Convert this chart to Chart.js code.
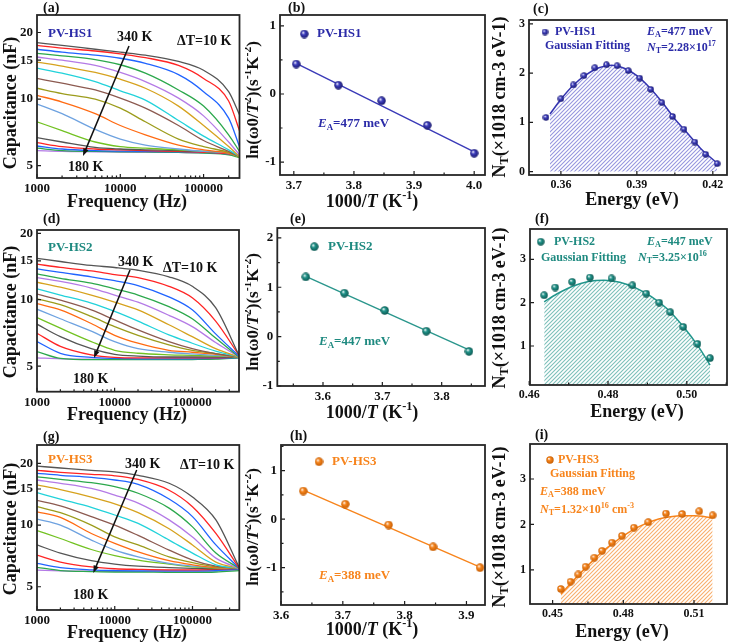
<!DOCTYPE html>
<html>
<head>
<meta charset="utf-8">
<script src="https://cdn.jsdelivr.net/npm/chart.js@4.4.1/dist/chart.umd.min.js"></script>
<style>
  body { margin: 0; background: #fff; }
  #wrap { position: relative; width: 738px; height: 644px; overflow: hidden; }
  #wrap canvas { position: absolute; }
</style>
</head>
<body>
<div id="wrap"></div>
<script>
// ---- data ----
// capacitance spectra, rows = 340 K ... 180 K (step 10 K)
const freqA = [1000, 2000, 5000, 10000, 20000, 50000, 100000, 200000, 270000];
const capA = [
  [18.0, 17.5, 16.8, 16.3, 15.8, 14.8, 13.5, 10.8, 8.5],
  [17.5, 17.0, 16.5, 16.0, 15.4, 14.2, 12.4, 9.8, 7.2],
  [16.8, 16.3, 15.8, 15.3, 14.5, 12.9, 10.8, 8.2, 6.1],
  [16.1, 15.7, 15.1, 14.3, 13.1, 11.0, 9.3, 6.9, 5.8],
  [15.5, 15.0, 14.2, 13.2, 12.0, 10.1, 8.4, 6.4, 5.6],
  [14.7, 14.1, 13.2, 12.3, 11.2, 9.3, 7.6, 6.1, 5.5],
  [13.8, 13.1, 12.0, 10.9, 9.9, 8.0, 6.8, 5.9, 5.5],
  [12.4, 11.8, 11.0, 10.1, 9.1, 7.6, 6.5, 5.8, 5.5],
  [11.2, 10.6, 10.0, 9.1, 7.9, 6.6, 6.1, 5.75, 5.5],
  [10.4, 9.7, 8.6, 7.6, 6.9, 6.2, 5.9, 5.7, 5.5],
  [9.5, 8.6, 7.3, 6.6, 6.2, 5.95, 5.8, 5.7, 5.5],
  [7.9, 7.2, 6.4, 6.1, 6.0, 5.9, 5.8, 5.7, 5.45],
  [6.7, 6.4, 6.05, 5.95, 5.9, 5.85, 5.8, 5.7, 5.55],
  [6.36, 6.1, 5.95, 5.9, 5.85, 5.8, 5.75, 5.65, 5.55],
  [6.14, 5.95, 5.85, 5.82, 5.8, 5.78, 5.75, 5.65, 5.55],
  [6.0, 5.85, 5.8, 5.78, 5.77, 5.75, 5.7, 5.6, 5.45],
  [5.85, 5.8, 5.78, 5.76, 5.75, 5.74, 5.72, 5.65, 5.55]
];
const freqDG = [1000, 2000, 5000, 10000, 20000, 50000, 100000, 200000, 400000];
const capD = [
  [15.4, 14.9, 14.3, 14.0, 13.6, 12.7, 11.5, 9.2, 5.6],
  [14.5, 14.0, 13.5, 13.0, 12.6, 11.5, 10.2, 8.0, 5.6],
  [13.8, 13.3, 12.7, 12.2, 11.6, 10.3, 9.0, 7.0, 5.55],
  [13.1, 12.5, 11.9, 11.2, 10.5, 9.3, 8.2, 6.7, 5.5],
  [12.6, 12.1, 11.3, 10.5, 9.75, 8.5, 7.55, 6.4, 5.5],
  [12.0, 11.4, 10.5, 9.75, 9.0, 7.7, 6.8, 6.0, 5.5],
  [11.2, 10.5, 9.65, 8.85, 8.0, 6.93, 6.35, 5.85, 5.5],
  [10.6, 9.95, 9.0, 8.1, 7.3, 6.46, 6.0, 5.7, 5.5],
  [10.1, 9.5, 8.4, 7.55, 6.9, 6.25, 5.9, 5.7, 5.5],
  [9.6, 9.0, 7.8, 6.9, 6.35, 5.9, 5.78, 5.66, 5.5],
  [9.06, 8.2, 7.2, 6.46, 6.0, 5.78, 5.68, 5.6, 5.5],
  [8.3, 7.43, 6.46, 5.9, 5.72, 5.63, 5.6, 5.55, 5.5],
  [7.75, 6.8, 6.0, 5.66, 5.55, 5.5, 5.5, 5.5, 5.5],
  [7.05, 6.15, 5.63, 5.48, 5.45, 5.45, 5.45, 5.45, 5.5],
  [6.46, 5.72, 5.48, 5.42, 5.4, 5.4, 5.4, 5.42, 5.48],
  [5.82, 5.42, 5.35, 5.35, 5.35, 5.35, 5.36, 5.38, 5.45],
  [5.45, 5.4, 5.38, 5.38, 5.38, 5.38, 5.38, 5.4, 5.45]
];
const capG = [
  [19.4, 19.0, 18.5, 18.2, 17.5, 16.0, 13.7, 10.6, 6.2],
  [18.5, 18.1, 17.7, 17.4, 16.7, 14.8, 12.3, 9.1, 6.15],
  [17.9, 17.5, 17.1, 16.6, 15.8, 13.4, 11.0, 8.0, 6.15],
  [17.2, 16.7, 16.1, 15.4, 14.3, 12.1, 9.8, 7.3, 6.15],
  [16.6, 16.0, 15.1, 14.0, 12.8, 10.6, 8.75, 6.9, 6.15],
  [15.7, 14.9, 13.7, 12.7, 11.5, 9.6, 8.0, 6.6, 6.15],
  [14.4, 13.4, 12.2, 11.2, 10.2, 8.45, 7.3, 6.4, 6.15],
  [13.2, 12.4, 11.0, 10.0, 8.9, 7.55, 6.75, 6.3, 6.15],
  [12.3, 11.5, 10.0, 8.75, 8.0, 7.0, 6.55, 6.25, 6.15],
  [11.6, 10.9, 9.1, 8.15, 7.4, 6.7, 6.4, 6.2, 6.15],
  [10.7, 10.0, 8.45, 7.55, 7.0, 6.5, 6.3, 6.2, 6.15],
  [9.4, 8.6, 7.6, 7.1, 6.75, 6.45, 6.25, 6.17, 6.15],
  [8.0, 7.3, 6.7, 6.45, 6.3, 6.2, 6.15, 6.12, 6.15],
  [7.14, 6.6, 6.25, 6.12, 6.08, 6.05, 6.05, 6.08, 6.15],
  [6.5, 6.2, 6.05, 6.0, 5.98, 5.97, 5.97, 6.0, 6.1],
  [6.22, 6.0, 5.93, 5.9, 5.9, 5.88, 5.88, 5.9, 6.0],
  [6.03, 5.98, 5.95, 5.95, 5.95, 5.95, 5.95, 5.98, 6.05]
];
const curveColors = ['#555555', '#ff2424', '#2064ff', '#2ca84c', '#b47ae6', '#d6a21e',
                     '#22d2da', '#8c5a50', '#9c9c1c', '#ff6a12', '#6ea2e0', '#72c222'];

// Arrhenius plots
const invTB = [3.704, 3.774, 3.846, 3.922, 4.000];
const lnB = [0.44, 0.13, -0.10, -0.46, -0.87];
const fitXB = [3.704, 4.000], fitYB = [0.45, -0.85];
const invTE = [3.571, 3.636, 3.704, 3.774, 3.846];
const lnE = [1.21, 0.88, 0.53, 0.11, -0.30];
const fitXE = [3.571, 3.846], fitYE = [1.22, -0.27];
const invTH = [3.636, 3.704, 3.774, 3.846, 3.922];
const lnH = [0.58, 0.31, -0.12, -0.57, -1.00];
const fitXH = [3.636, 3.922], fitYH = [0.60, -0.99];

// trap density of states
const energyC = [0.3541, 0.3600, 0.3649, 0.3691, 0.3734, 0.3780, 0.3822, 0.3866, 0.3911, 0.3955, 0.3999, 0.4041, 0.4086, 0.4129, 0.4172, 0.4217];
const ntC = [1.10, 1.48, 1.76, 1.95, 2.11, 2.17, 2.15, 2.05, 1.90, 1.67, 1.40, 1.12, 0.86, 0.60, 0.35, 0.16];
const fitEC = [0.3557, 0.360, 0.365, 0.370, 0.375, 0.380, 0.385, 0.390, 0.395, 0.400, 0.405, 0.410, 0.415, 0.4217];
const fitC = [1.17, 1.47, 1.76, 1.97, 2.11, 2.16, 2.10, 1.95, 1.71, 1.41, 1.07, 0.78, 0.48, 0.17];
const energyF = [0.4638, 0.4666, 0.4709, 0.4754, 0.4809, 0.4862, 0.4897, 0.4930, 0.4958, 0.4991, 0.5027, 0.5059];
const ntF = [2.17, 2.35, 2.48, 2.58, 2.56, 2.40, 2.21, 2.00, 1.78, 1.44, 1.05, 0.72];
const fitEF = [0.4638, 0.4670, 0.4710, 0.4750, 0.4790, 0.4830, 0.4870, 0.4910, 0.4950, 0.4990, 0.5030, 0.5059];
const fitF = [2.02, 2.20, 2.38, 2.49, 2.52, 2.47, 2.34, 2.14, 1.86, 1.46, 0.98, 0.56];
const energyI = [0.4535, 0.4576, 0.4609, 0.4640, 0.4677, 0.4710, 0.4752, 0.4794, 0.4845, 0.4906, 0.4981, 0.5050, 0.5122, 0.5179];
const ntI = [0.58, 0.74, 0.90, 1.07, 1.27, 1.42, 1.60, 1.75, 1.93, 2.05, 2.24, 2.23, 2.29, 2.20];
const fitEI = [0.4535, 0.458, 0.462, 0.466, 0.470, 0.475, 0.480, 0.485, 0.490, 0.495, 0.500, 0.505, 0.510, 0.5179];
const fitI = [0.47, 0.72, 0.94, 1.15, 1.35, 1.56, 1.75, 1.91, 2.03, 2.12, 2.17, 2.19, 2.19, 2.15];

// ---- helpers ----
const FONT = '"Liberation Serif", "Times New Roman", serif';
const BLUE = '#2b2ba8', TEAL = '#1f8a80', ORANGE = '#f7841c';

function pairs(xs, ys) { return ys.map((v, i) => ({ x: xs[i], y: v })); }

function sphere(base, dark, d) {
    const c = document.createElement('canvas');
    c.width = c.height = d;
    const g = c.getContext('2d');
    const r = d / 2;
    const grd = g.createRadialGradient(r * 0.7, r * 0.65, r * 0.05, r, r, r);
    grd.addColorStop(0, '#ffffff');
    grd.addColorStop(0.35, base);
    grd.addColorStop(1, dark);
    g.fillStyle = grd;
    g.beginPath();
    g.arc(r, r, r - 0.3, 0, Math.PI * 2);
    g.fill();
    return c;
}

function hatch(color) {
    const c = document.createElement('canvas');
    c.width = c.height = 4;
    const g = c.getContext('2d');
    g.strokeStyle = color;
    g.lineWidth = 1.1;
    g.beginPath();
    g.moveTo(0, 4); g.lineTo(4, 0);
    g.moveTo(-1, 1); g.lineTo(1, -1);
    g.moveTo(3, 5); g.lineTo(5, 3);
    g.stroke();
    return g.createPattern(c, 'repeat');
}

// segs: [text, flags]; flags may hold 'i' (italic), '_' (sub), '^' (sup)
function drawRich(ctx, segs, x, y, size, color, align, rot) {
    const fontOf = f => (f.includes('i') ? 'italic ' : '') + 'bold ' +
        ((f.includes('_') || f.includes('^')) ? size * 0.68 : size) + 'px ' + FONT;
    let w = 0;
    segs.forEach(([t, f = '']) => { ctx.font = fontOf(f); w += ctx.measureText(t).width; });
    ctx.save();
    ctx.translate(x, y);
    if (rot) ctx.rotate(rot);
    ctx.fillStyle = color;
    ctx.textBaseline = 'middle';
    ctx.textAlign = 'left';
    let cx = align === 'center' ? -w / 2 : 0;
    segs.forEach(([t, f = '']) => {
        ctx.font = fontOf(f);
        const dy = f.includes('^') ? -size * 0.33 : f.includes('_') ? size * 0.25 : 0;
        ctx.fillText(t, cx, dy);
        cx += ctx.measureText(t).width;
    });
    ctx.restore();
}

function decor(rect, cfg) {
    return {
        id: 'decor',
        afterDraw(chart) {
            const { ctx, chartArea: a } = chart;
            const xs = chart.scales.x, ys = chart.scales.y;
            ctx.save();
            ctx.strokeStyle = '#1c1c1c';
            ctx.lineWidth = 1.2;
            ctx.beginPath();
            cfg.xTicks.forEach(v => { const p = xs.getPixelForValue(v); ctx.moveTo(p, a.bottom); ctx.lineTo(p, a.bottom - 4); });
            (cfg.xMinor || []).forEach(v => { const p = xs.getPixelForValue(v); ctx.moveTo(p, a.bottom); ctx.lineTo(p, a.bottom - 2.5); });
            cfg.yTicks.forEach(v => { const p = ys.getPixelForValue(v); ctx.moveTo(a.left, p); ctx.lineTo(a.left + 4, p); });
            (cfg.yMinor || []).forEach(v => { const p = ys.getPixelForValue(v); ctx.moveTo(a.left, p); ctx.lineTo(a.left + 2.5, p); });
            ctx.stroke();
            ctx.strokeStyle = '#262626';
            ctx.lineWidth = 1.8;
            ctx.strokeRect(a.left, a.top, a.right - a.left, a.bottom - a.top);
            ctx.restore();

            cfg.notes.forEach(n => {
                const x = n.x - rect.x, y = n.y - rect.y;
                if (n.arrow) {
                    const x2 = n.x2 - rect.x, y2 = n.y2 - rect.y;
                    const ang = Math.atan2(y2 - y, x2 - x);
                    ctx.save();
                    ctx.strokeStyle = '#111'; ctx.fillStyle = '#111'; ctx.lineWidth = 1.5;
                    ctx.beginPath(); ctx.moveTo(x, y); ctx.lineTo(x2 - 5 * Math.cos(ang), y2 - 5 * Math.sin(ang)); ctx.stroke();
                    ctx.beginPath();
                    ctx.moveTo(x2, y2);
                    ctx.lineTo(x2 - 8 * Math.cos(ang - 0.35), y2 - 8 * Math.sin(ang - 0.35));
                    ctx.lineTo(x2 - 8 * Math.cos(ang + 0.35), y2 - 8 * Math.sin(ang + 0.35));
                    ctx.closePath(); ctx.fill();
                    ctx.restore();
                } else if (n.ball) {
                    ctx.drawImage(n.ball, x - n.ball.width / 2, y - n.ball.height / 2);
                } else {
                    drawRich(ctx, n.segs, x, y, n.size || 13, n.color || '#111', n.align || 'left', n.rot);
                }
            });
        }
    };
}

function build(rect, box, cfg) {
    const cv = document.createElement('canvas');
    cv.width = rect.w; cv.height = rect.h;
    cv.style.left = rect.x + 'px'; cv.style.top = rect.y + 'px';
    document.getElementById('wrap').appendChild(cv);
    const tickFont = { family: FONT, weight: 'bold', size: cfg.tickSize || 13 };
    new Chart(cv, {
        type: 'line',
        data: { datasets: cfg.datasets },
        options: {
            responsive: false,
            animation: false,
            events: [],
            layout: { padding: { left: 0, bottom: 0, top: box.t - rect.y, right: rect.x + rect.w - box.r } },
            plugins: { legend: { display: false }, tooltip: { enabled: false } },
            scales: {
                x: {
                    type: cfg.xType || 'linear', min: cfg.xMin, max: cfg.xMax,
                    grid: { display: false, drawTicks: false }, border: { display: false },
                    ticks: { font: tickFont, color: '#111', padding: 3, autoSkip: false, maxRotation: 0, callback: cfg.xFmt },
                    afterBuildTicks: s => { s.ticks = cfg.xTicks.map(v => ({ value: v })); },
                    afterFit: s => { s.height = rect.y + rect.h - box.b; }
                },
                y: {
                    type: cfg.yType || 'linear', min: cfg.yMin, max: cfg.yMax,
                    grid: { display: false, drawTicks: false }, border: { display: false },
                    ticks: { font: tickFont, color: '#111', padding: 4, autoSkip: false, callback: cfg.yFmt },
                    afterBuildTicks: s => { s.ticks = cfg.yTicks.map(v => ({ value: v })); },
                    afterFit: s => { s.width = box.l - rect.x; }
                }
            }
        },
        plugins: [decor(rect, cfg)]
    });
}

function spectra(freq, rows) {
    return rows.map((row, i) => ({
        data: pairs(freq, row),
        borderColor: curveColors[i % curveColors.length],
        borderWidth: 1.3,
        pointRadius: 0,
        cubicInterpolationMode: 'monotone',
        fill: false
    }));
}
function arrhenius(xs, ys, fx, fy, color, ball) {
    return [
        { data: pairs(xs, ys), showLine: false, pointStyle: ball, pointRadius: 4 },
        { data: pairs(fx, fy), borderColor: color, borderWidth: 1.4, pointRadius: 0, fill: false }
    ];
}
function dos(xs, ys, fx, fy, color, hatchColor, ball, fillTo) {
    return [
        { data: pairs(xs, ys), showLine: false, pointStyle: ball, pointRadius: 4 },
        { data: pairs(fx, fy), borderColor: color, borderWidth: 1.5, pointRadius: 0,
          cubicInterpolationMode: 'monotone', fill: fillTo, backgroundColor: hatch(hatchColor) }
    ];
}

const fmtInt = v => String(v);
const fmt1 = v => v.toFixed(1);
const fmt2 = v => v.toFixed(2);
const minorLog = [2e3, 3e3, 4e3, 5e3, 6e3, 7e3, 8e3, 9e3, 2e4, 3e4, 4e4, 5e4, 6e4, 7e4, 8e4, 9e4, 2e5, 3e5];

const ballB = sphere('#4040c0', '#161668', 9), ballBs = sphere('#4040c0', '#161668', 7);
const ballT = sphere('#22968c', '#0a524c', 9), ballTs = sphere('#22968c', '#0a524c', 8);
const ballO = sphere('#f7861e', '#c25a00', 9), ballOs = sphere('#f7861e', '#c25a00', 8);

const capTitle = [['Capacitance (nF)']];
const freqTitle = [['Frequency (Hz)']];
const lnTitle = [['ln(ω0/'], ['T', 'i'], ['2', '^'], [')(s'], ['-1', '^'], ['K'], ['-2', '^'], [')']];
const invTitle = [['1000/'], ['T', 'i'], [' (K'], ['-1', '^'], [')']];
const ntTitle = [['N'], ['T', '_'], ['(×1018 cm-3 eV-1)']];
const enTitle = [['Energy (eV)']];

// canvases of rows 2 and 3 start a little higher so the panel letters are not clipped
const ROW = [{ y: 0, h: 215 }, { y: 207, h: 223 }, { y: 422, h: 222 }];
const COL = [{ x: 0, w: 245 }, { x: 245, w: 245 }, { x: 490, w: 248 }];
const R = (c, r) => ({ x: COL[c].x, w: COL[c].w, y: ROW[r].y, h: ROW[r].h });

function capNotes(letter, label, color, d) {
    return [
        { x: 43, y: d.lab, segs: [[letter]], size: 14 },
        { x: 48, y: d.name, segs: [[label]], color: color, size: 13 },
        { x: d.k340[0], y: d.k340[1], segs: [['340 K']], size: 14 },
        { x: d.dt[0], y: d.dt[1], segs: [['ΔT=10 K']], size: 14 },
        { x: d.k180[0], y: d.k180[1], segs: [['180 K']], size: 14 },
        { arrow: true, x: d.arr[0], y: d.arr[1], x2: d.arr[2], y2: d.arr[3] },
        { x: 11, y: d.yt, segs: capTitle, size: 18, align: 'center', rot: -Math.PI / 2 },
        { x: 127, y: d.xt, segs: freqTitle, size: 18, align: 'center' }
    ];
}

// ---- panel (a) ----
build(R(0, 0), { l: 37, t: 15, r: 239.5, b: 178 }, {
    xType: 'logarithmic', xMin: 1000, xMax: 270000, xTicks: [1000, 10000, 100000], xMinor: minorLog.slice(0, 17), xFmt: fmtInt,
    yType: 'logarithmic', yMin: 4.4, yMax: 24, yTicks: [5, 10, 15, 20], yFmt: fmtInt,
    datasets: spectra(freqA, capA),
    notes: capNotes('(a)', 'PV-HS1', BLUE, { lab: 8, name: 34, k340: [117, 37], dt: [177, 41], k180: [68, 167], arr: [129, 46, 83, 156], yt: 103, xt: 202 })
});
// ---- panel (d) ----
build(R(0, 1), { l: 37, t: 230, r: 239, b: 391.7 }, {
    xType: 'logarithmic', xMin: 1000, xMax: 400000, xTicks: [1000, 10000, 100000], xMinor: minorLog, xFmt: fmtInt,
    yType: 'logarithmic', yMin: 3.83, yMax: 20.7, yTicks: [5, 10, 15, 20], yFmt: fmtInt,
    datasets: spectra(freqDG, capD),
    notes: capNotes('(d)', 'PV-HS2', TEAL, { lab: 219, name: 248, k340: [118, 262], dt: [163, 268], k180: [73, 379], arr: [130, 270, 94, 358], yt: 312, xt: 415 })
});
// ---- panel (g) ----
build(R(0, 2), { l: 37, t: 445, r: 239.3, b: 610 }, {
    xType: 'logarithmic', xMin: 1000, xMax: 400000, xTicks: [1000, 10000, 100000], xMinor: minorLog, xFmt: fmtInt,
    yType: 'logarithmic', yMin: 3.85, yMax: 24.6, yTicks: [5, 10, 15, 20], yFmt: fmtInt,
    datasets: spectra(freqDG, capG),
    notes: capNotes('(g)', 'PV-HS3', ORANGE, { lab: 437, name: 460, k340: [125, 464], dt: [180, 465], k180: [73, 595], arr: [136.7, 470, 93.3, 573], yt: 529, xt: 633 })
});

// ---- panel (b) ----
build(R(1, 0), { l: 280, t: 15, r: 486, b: 175 }, {
    xMin: 3.677, xMax: 4.018, xTicks: [3.7, 3.8, 3.9, 4.0], xMinor: [3.75, 3.85, 3.95], xFmt: fmt1,
    yMin: -1.19, yMax: 1.16, yTicks: [-1, 0, 1], yMinor: [-0.5, 0.5], yFmt: fmtInt,
    datasets: arrhenius(invTB, lnB, fitXB, fitYB, '#3a3ab8', ballB),
    notes: [
        { x: 288, y: 8, segs: [['(b)']], size: 14 },
        { ball: ballB, x: 304.3, y: 34 },
        { x: 317, y: 34, segs: [['PV-HS1']], color: BLUE, size: 13 },
        { x: 318, y: 124, segs: [['E', 'i'], ['A', '_'], ['=477 meV']], color: BLUE, size: 13 },
        { x: 254, y: 100, segs: lnTitle, size: 17, align: 'center', rot: -Math.PI / 2 },
        { x: 372, y: 202, segs: invTitle, size: 18, align: 'center' }
    ]
});
// ---- panel (e) ----
build(R(1, 1), { l: 277.3, t: 228, r: 486, b: 386 }, {
    xMin: 3.523, xMax: 3.873, xTicks: [3.6, 3.7, 3.8], xMinor: [3.55, 3.65, 3.75, 3.85], xFmt: fmt1,
    yMin: -1.0, yMax: 2.2, yTicks: [-1, 0, 1, 2], yMinor: [-0.5, 0.5, 1.5], yFmt: fmtInt,
    datasets: arrhenius(invTE, lnE, fitXE, fitYE, '#2a968c', ballT),
    notes: [
        { x: 290, y: 219, segs: [['(e)']], size: 14 },
        { ball: ballT, x: 314.3, y: 246.7 },
        { x: 328, y: 247, segs: [['PV-HS2']], color: TEAL, size: 13 },
        { x: 319, y: 342, segs: [['E', 'i'], ['A', '_'], ['=447 meV']], color: TEAL, size: 13 },
        { x: 254, y: 312, segs: lnTitle, size: 17, align: 'center', rot: -Math.PI / 2 },
        { x: 372, y: 413, segs: invTitle, size: 18, align: 'center' }
    ]
});
// ---- panel (h) ----
build(R(1, 2), { l: 281, t: 445, r: 485, b: 605 }, {
    xMin: 3.6, xMax: 3.93, xTicks: [3.6, 3.7, 3.8, 3.9], xMinor: [3.65, 3.75, 3.85], xFmt: fmt1,
    yMin: -1.77, yMax: 1.53, yTicks: [-1, 0, 1], yMinor: [-1.5, -0.5, 0.5, 1.5], yFmt: fmtInt,
    datasets: arrhenius(invTH, lnH, fitXH, fitYH, '#f7841c', ballO),
    notes: [
        { x: 290, y: 436, segs: [['(h)']], size: 14 },
        { ball: ballO, x: 319, y: 461.7 },
        { x: 332, y: 462, segs: [['PV-HS3']], color: ORANGE, size: 13 },
        { x: 319, y: 576, segs: [['E', 'i'], ['A', '_'], ['=388 meV']], color: ORANGE, size: 13 },
        { x: 254, y: 527, segs: lnTitle, size: 17, align: 'center', rot: -Math.PI / 2 },
        { x: 372, y: 630, segs: invTitle, size: 18, align: 'center' }
    ]
});

// ---- panel (c) ----
build(R(2, 0), { l: 529, t: 20, r: 727, b: 175 }, {
    xMin: 0.3474, xMax: 0.4256, xTicks: [0.36, 0.39, 0.42], xMinor: [0.375, 0.405], xFmt: fmt2, tickSize: 12,
    yMin: -0.07, yMax: 3.08, yTicks: [0, 1, 2, 3], yFmt: fmtInt,
    datasets: dos(energyC, ntC, fitEC, fitC, '#3535b0', 'rgba(80,80,200,0.6)', ballBs, 'origin'),
    notes: [
        { x: 533, y: 9, segs: [['(c)']], size: 14 },
        { ball: ballBs, x: 545, y: 32 },
        { x: 555, y: 32, segs: [['PV-HS1']], color: BLUE, size: 12 },
        { x: 545, y: 46, segs: [['Gaussian Fitting']], color: BLUE, size: 12 },
        { x: 647, y: 32, segs: [['E', 'i'], ['A', '_'], ['=477 meV']], color: BLUE, size: 12 },
        { x: 647, y: 48, segs: [['N', 'i'], ['T', '_'], ['=2.28×10'], ['17', '^']], color: BLUE, size: 12 },
        { x: 500, y: 97, segs: ntTitle, size: 18, align: 'center', rot: -Math.PI / 2 },
        { x: 632, y: 200, segs: enTitle, size: 18, align: 'center' }
    ]
});
// ---- panel (f) ----
build(R(2, 1), { l: 530, t: 229, r: 727, b: 385 }, {
    xMin: 0.4602, xMax: 0.5102, xTicks: [0.46, 0.48, 0.50], xMinor: [0.47, 0.49, 0.51], xFmt: fmt2, tickSize: 12,
    yMin: 0.10, yMax: 3.70, yTicks: [1, 2, 3], yFmt: fmtInt,
    datasets: dos(energyF, ntF, fitEF, fitF, '#22968c', 'rgba(40,150,140,0.6)', ballTs, 'start'),
    notes: [
        { x: 535, y: 219, segs: [['(f)']], size: 14 },
        { ball: ballTs, x: 540.7, y: 241.7 },
        { x: 554, y: 242, segs: [['PV-HS2']], color: TEAL, size: 12 },
        { x: 541, y: 258, segs: [['Gaussian Fitting']], color: TEAL, size: 12 },
        { x: 647, y: 242, segs: [['E', 'i'], ['A', '_'], ['=447 meV']], color: TEAL, size: 12 },
        { x: 638, y: 258, segs: [['N', 'i'], ['T', '_'], ['=3.25×10'], ['16', '^']], color: TEAL, size: 12 },
        { x: 500, y: 308, segs: ntTitle, size: 18, align: 'center', rot: -Math.PI / 2 },
        { x: 637, y: 412, segs: enTitle, size: 18, align: 'center' }
    ]
});
// ---- panel (i) ----
build(R(2, 2), { l: 530, t: 444, r: 727, b: 604 }, {
    xMin: 0.4404, xMax: 0.524, xTicks: [0.45, 0.48, 0.51], xMinor: [0.465, 0.495], xFmt: fmt2, tickSize: 12,
    yMin: 0.25, yMax: 3.77, yTicks: [1, 2, 3], yFmt: fmtInt,
    datasets: dos(energyI, ntI, fitEI, fitI, '#f7841c', 'rgba(245,130,30,0.65)', ballOs, 'start'),
    notes: [
        { x: 535, y: 435, segs: [['(i)']], size: 14 },
        { ball: ballOs, x: 550, y: 460 },
        { x: 558, y: 460, segs: [['PV-HS3']], color: ORANGE, size: 12 },
        { x: 550, y: 474, segs: [['Gaussian Fitting']], color: ORANGE, size: 12 },
        { x: 540, y: 492, segs: [['E', 'i'], ['A', '_'], ['=388 meV']], color: ORANGE, size: 12 },
        { x: 540, y: 510, segs: [['N', 'i'], ['T', '_'], ['=1.32×10'], ['16', '^'], [' cm'], ['-3', '^']], color: ORANGE, size: 12 },
        { x: 500, y: 527, segs: ntTitle, size: 18, align: 'center', rot: -Math.PI / 2 },
        { x: 622, y: 632, segs: enTitle, size: 18, align: 'center' }
    ]
});
</script>
</body>
</html>
